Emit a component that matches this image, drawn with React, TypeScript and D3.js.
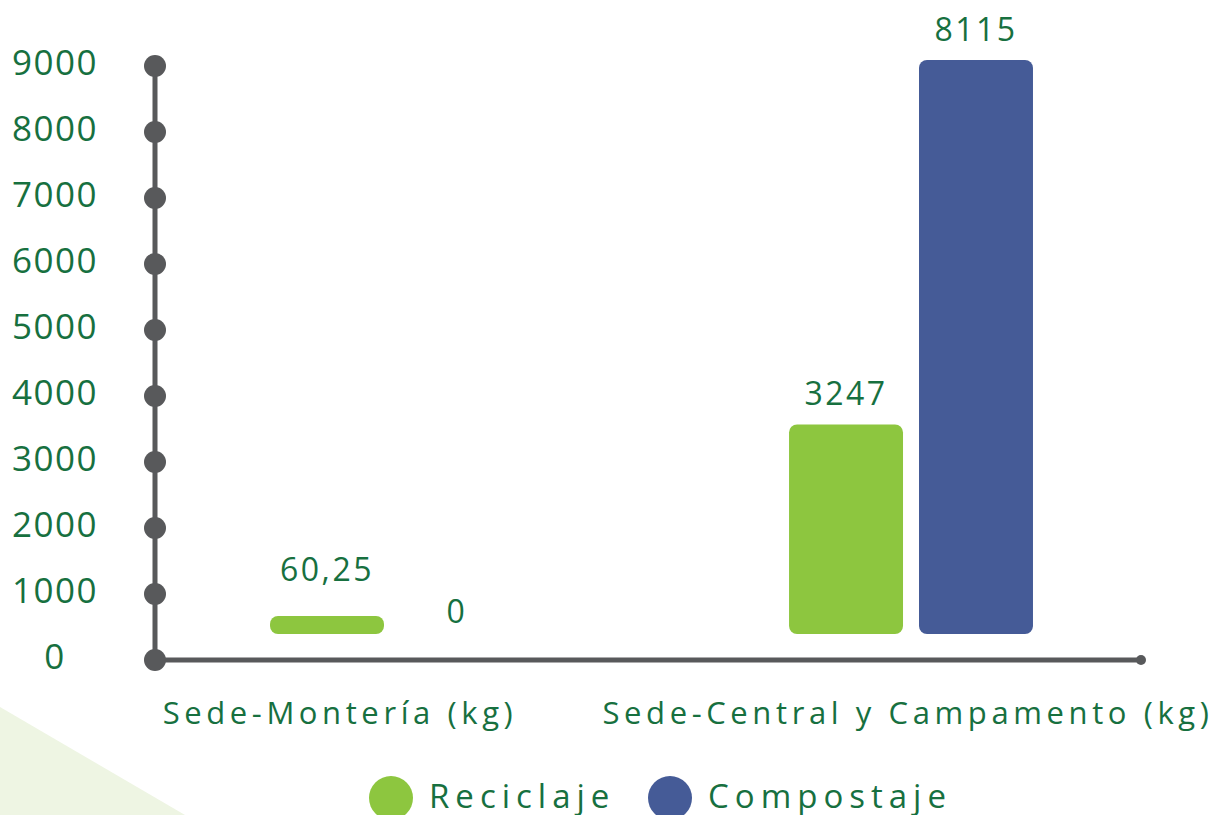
import * as d3 from "d3";
import { useEffect } from "react";

const categories = ["Sede-Montería (kg)", "Sede-Central y Campamento (kg)"];
const seriesNames = ["Reciclaje", "Compostaje"];
const reciclaje = [60.25, 3247];
const compostaje = [0, 8115];
const yTicks = [0, 1000, 2000, 3000, 4000, 5000, 6000, 7000, 8000, 9000];

const seriesColors = ["#8dc63f", "#455b97"];
const textColor = "#17703f";
const axisColor = "#58595b";
const font = "'Open Sans', 'DejaVu Sans', sans-serif";

export default function App() {
  useEffect(() => {
    document.body.style.margin = "0";
  }, []);

  const width = 1218;
  const height = 815;
  const axisX = 155;
  const axisY = 660;
  const axisEnd = 1141;
  const barBase = 634;

  const y = d3.scaleLinear().domain([0, 9000]).range([axisY, 66]);

  // bars in the source are drawn on their own scale, not the axis one
  const barH = d3.scalePow().exponent(1.1).domain([0, 8115]).range([0, 574]);

  const x0 = d3
    .scaleBand<string>()
    .domain(categories)
    .range([axisX, 1148])
    .paddingInner(0.53)
    .paddingOuter(0.2216);
  const x1 = d3
    .scaleBand<string>()
    .domain(seriesNames)
    .range([0, x0.bandwidth()])
    .paddingInner(0.123);

  const labelX = d3.scalePoint<string>().domain(categories).range([340, 908]);

  const series = [reciclaje, compostaje];
  const fmt = (v: number) => String(v).replace(".", ",");

  return (
    <svg width={width} height={height} style={{ display: "block" }} fontFamily={font}>
      <rect width={width} height={height} fill="#fff" />
      <polygon points="0,707 185,815 0,815" fill="#eef5e3" />

      {/* axes */}
      <line x1={axisX} x2={axisX} y1={y(9000)} y2={axisY} stroke={axisColor} strokeWidth={5} />
      <line x1={axisX} x2={axisEnd} y1={axisY} y2={axisY} stroke={axisColor} strokeWidth={5} />
      <circle cx={axisEnd} cy={axisY} r={5} fill={axisColor} />
      {yTicks.map((t) => (
        <g key={t}>
          <circle cx={axisX} cy={y(t)} r={11} fill={axisColor} />
          <text
            x={55}
            y={y(t) - 3}
            dy="0.35em"
            textAnchor="middle"
            fontSize={35}
            letterSpacing={1.5}
            fill={textColor}
          >
            {t}
          </text>
        </g>
      ))}

      {/* bars */}
      {categories.map((c, ci) => (
        <g key={c} transform={`translate(${x0(c)},0)`}>
          {seriesNames.map((s, si) => {
            const v = series[si][ci];
            const h = v > 0 ? Math.max(18, barH(v)) : 0;
            const top = barBase - h;
            const bx = x1(s) ?? 0;
            const off = h === 0 ? 11 : h < 30 ? 35 : 19;
            return (
              <g key={s}>
                {h > 0 && (
                  <rect
                    x={bx}
                    y={top}
                    width={x1.bandwidth()}
                    height={h}
                    rx={8}
                    fill={seriesColors[si]}
                  />
                )}
                <text
                  x={bx + x1.bandwidth() / 2}
                  y={top - off}
                  textAnchor="middle"
                  fontSize={32}
                  letterSpacing={2.5}
                  fill={textColor}
                >
                  {fmt(v)}
                </text>
              </g>
            );
          })}
        </g>
      ))}

      {/* category labels */}
      {categories.map((c) => (
        <text
          key={c}
          x={labelX(c)}
          y={724}
          textAnchor="middle"
          fontSize={31}
          letterSpacing={4.6}
          fill={textColor}
        >
          {c}
        </text>
      ))}

      {/* legend */}
      {seriesNames.map((s, i) => {
        const lx = [391, 670][i];
        return (
          <g key={s}>
            <circle cx={lx} cy={798} r={22} fill={seriesColors[i]} />
            <text x={lx + 38} y={808} fontSize={33} letterSpacing={6} fill={textColor}>
              {s}
            </text>
          </g>
        );
      })}
    </svg>
  );
}
